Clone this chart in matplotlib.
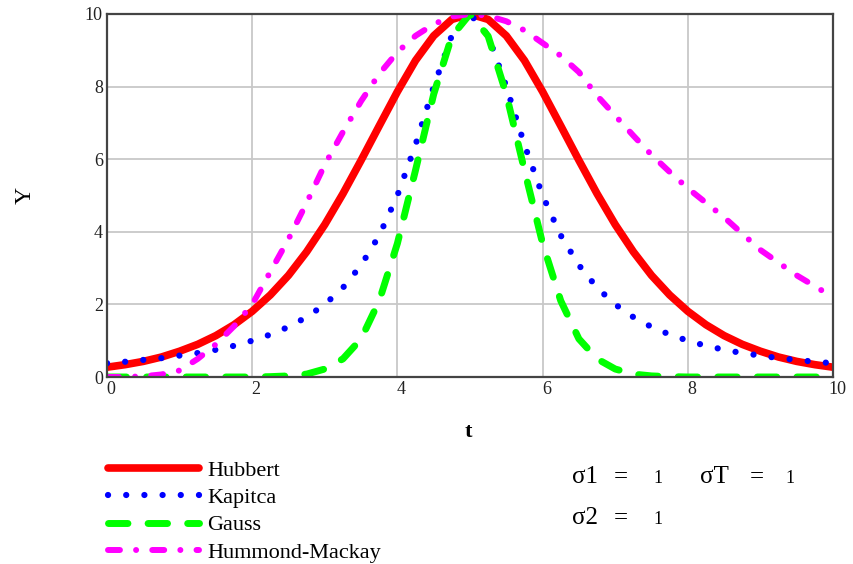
import matplotlib.pyplot as plt
from matplotlib.transforms import ScaledTranslation

plt.rcParams['font.family'] = ['Liberation Serif', 'DejaVu Serif']

# time axis (step 0.25)
t = [0.0, 0.25, 0.5, 0.75, 1.0, 1.25, 1.5, 1.75, 2.0, 2.25, 2.5, 2.75,
     3.0, 3.25, 3.5, 3.75, 4.0, 4.25, 4.5, 4.75, 5.0, 5.25, 5.5, 5.75,
     6.0, 6.25, 6.5, 6.75, 7.0, 7.25, 7.5, 7.75, 8.0, 8.25, 8.5, 8.75,
     9.0, 9.25, 9.5, 9.75, 10.0]

hubbert = [0.27, 0.34, 0.43, 0.55, 0.71, 0.90, 1.14, 1.44, 1.81, 2.26, 2.80, 3.45,
           4.20, 5.05, 5.97, 6.92, 7.86, 8.72, 9.40, 9.85, 10.0, 9.85, 9.40, 8.72,
           7.86, 6.92, 5.97, 5.05, 4.20, 3.45, 2.80, 2.26, 1.81, 1.44, 1.14, 0.90,
           0.71, 0.55, 0.43, 0.34, 0.27]

kapitca = [0.38, 0.42, 0.47, 0.52, 0.59, 0.66, 0.75, 0.86, 1.0, 1.17, 1.38, 1.65,
           2.0, 2.46, 3.08, 3.90, 5.0, 6.4, 8.0, 9.41, 10.0, 9.41, 8.0, 6.4,
           5.0, 3.90, 3.08, 2.46, 2.0, 1.65, 1.38, 1.17, 1.0, 0.86, 0.75, 0.66,
           0.59, 0.52, 0.47, 0.42, 0.38]

gauss = [0.0, 0.0, 0.0, 0.0, 0.0, 0.0, 0.0, 0.0, 0.0, 0.01, 0.03, 0.08,
         0.22, 0.5, 1.05, 2.10, 3.68, 5.70, 7.79, 9.39, 10.0, 9.39, 7.79, 5.70,
         3.68, 2.10, 1.05, 0.5, 0.22, 0.08, 0.03, 0.01, 0.0, 0.0, 0.0, 0.0,
         0.0, 0.0, 0.0, 0.0, 0.0]

hummond_mackay = [0.0, 0.0, 0.02, 0.07, 0.18, 0.5, 0.9, 1.4, 2.0, 2.9, 3.8, 4.8,
                  5.85, 6.75, 7.6, 8.35, 8.95, 9.4, 9.72, 9.93, 10.0, 9.95, 9.8, 9.55,
                  9.2, 8.85, 8.4, 7.75, 7.2, 6.65, 6.12, 5.65, 5.2, 4.8, 4.4, 3.95,
                  3.5, 3.15, 2.8, 2.5, 2.2]

x_ticks = [0, 2, 4, 6, 8, 10]
y_ticks = [0, 2, 4, 6, 8, 10]

fig = plt.figure(figsize=(8.54, 5.64), dpi=100)
ax = fig.add_axes([107 / 854, 187 / 564, 726 / 854, 363 / 564])

ax.plot(t, hubbert, color='#ff0000', linewidth=5.5, solid_capstyle='round', label='Hubbert')
ax.plot(t, kapitca, color='#0000ff', linewidth=4.5, dash_capstyle='round',
        linestyle=(0, (0.01, 2.9)), label='Kapitca')
ax.plot(t, gauss, color='#00ff00', linewidth=5, dash_capstyle='round',
        linestyle=(0, (2.8, 2.9)), label='Gauss')
ax.plot(t, hummond_mackay, color='#ff00ff', linewidth=4.3, dash_capstyle='round',
        linestyle=(0, (2.0, 2.7, 0.01, 2.7)), label='Hummond-Mackay')

ax.set_xlim(0, 10)
ax.set_ylim(0, 10)
ax.set_xticks(x_ticks)
ax.set_yticks(y_ticks)
ax.tick_params(length=0, labelsize=13, labelcolor='#222222', pad=3)
# x labels sit a little right of their grid line, Mathcad style
for lab in ax.get_xticklabels():
    lab.set_transform(lab.get_transform() + ScaledTranslation(4 / 100, 0, fig.dpi_scale_trans))
ax.grid(True, color='#c8c8c8', linewidth=1.3)
ax.set_axisbelow(True)
for s in ax.spines.values():
    s.set_color('#444444')
    s.set_linewidth(1.6)

# axis titles
fig.text(25 / 854, 1 - 195 / 564, 'Y', rotation=90, fontsize=17, ha='center', va='center')
fig.text(468 / 854, 1 - 432 / 564, 't', fontsize=16, fontweight='bold', ha='center', va='center')

ax.legend(loc='upper left', bbox_to_anchor=(108 / 854, 1 - 460 / 564),
          bbox_transform=fig.transFigure, frameon=False, fontsize=16,
          handlelength=4.1, handletextpad=0.36, labelspacing=0.31,
          borderpad=0, borderaxespad=0)

# parameters block
fig.text(572 / 854, 1 - 483 / 564, '\u03c31', fontsize=18, va='baseline')
fig.text(614 / 854, 1 - 483 / 564, '=', fontsize=18, va='baseline')
fig.text(653 / 854, 1 - 483 / 564, '1', fontsize=13, va='baseline')
fig.text(700 / 854, 1 - 483 / 564, '\u03c3T', fontsize=18, va='baseline')
fig.text(750 / 854, 1 - 483 / 564, '=', fontsize=18, va='baseline')
fig.text(785 / 854, 1 - 483 / 564, '1', fontsize=13, va='baseline')
fig.text(572 / 854, 1 - 524 / 564, '\u03c32', fontsize=18, va='baseline')
fig.text(614 / 854, 1 - 524 / 564, '=', fontsize=18, va='baseline')
fig.text(653 / 854, 1 - 524 / 564, '1', fontsize=13, va='baseline')

fig.savefig('out.png', dpi=100)
